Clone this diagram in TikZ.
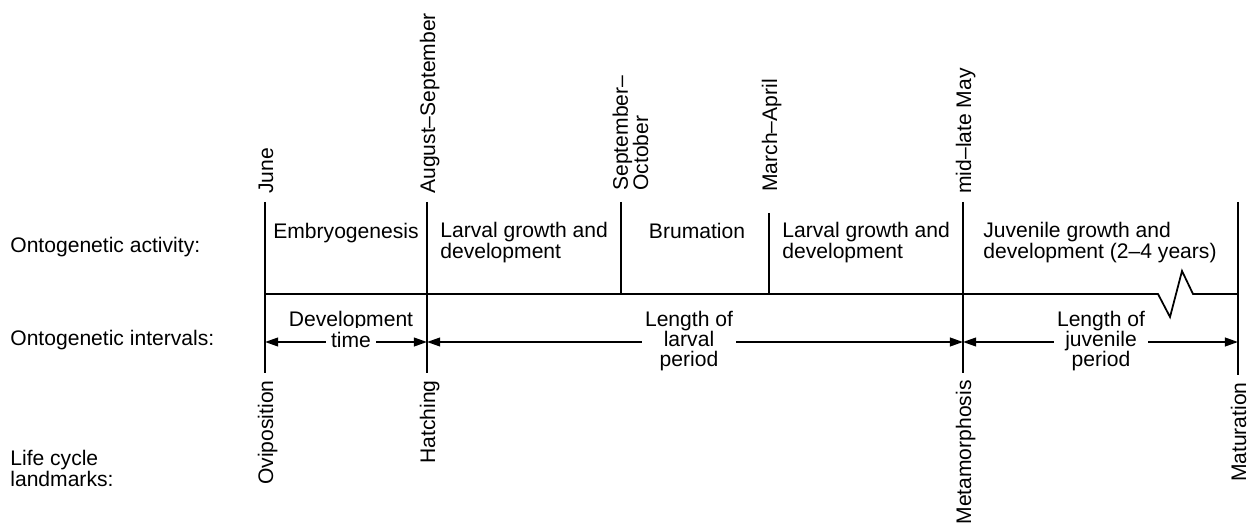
\documentclass[tikz,border=0pt]{standalone}
\usepackage{fontspec}
\setmainfont{Liberation Sans}
\usetikzlibrary{arrows.meta, positioning}

\begin{document}
\begin{tikzpicture}[
  x=0.02cm, y=-0.02cm,
  every node/.style={inner sep=0pt, font=\fontsize{12}{11.5}\selectfont},
  tick/.style={line width=1pt},
  month/.style={rotate=90, anchor=base west, align=left},
  landmark/.style={rotate=90, anchor=base east},
  activity/.style={anchor=base west, align=left},
  span/.style={line width=1pt,
    {Triangle[length=7.5pt, width=5pt]}-{Triangle[length=7.5pt, width=5pt]}},
  gap/.style={fill=white, inner xsep=1.5pt, align=center}
]
\useasboundingbox (0,0) rectangle (1250,530);

% Row headings (base of a two-line node sits on its last line)
\node[anchor=base west] (acthead) at (10,253) {Ontogenetic activity:};
\node[anchor=base west] (ivlhead) at (10,345) {Ontogenetic intervals:};
\node[anchor=base west, align=left] (lmhead) at (10,486) {Life cycle\\landmarks:};

% Points on the time axis
\foreach \name/\x in {ovi/265, hat/427, sep/621, mar/769, meta/963, mat/1238}
  \coordinate (\name) at (\x,294);
\coordinate (brk) at (1158,294);
\coordinate (ivl) at (0,342);
\coordinate (mattop) at (1238,202);

% Calendar dates above the axis
\node[month] (jun)    at (273,194) {June};
\node[month] (augsep) at (435,194) {August–September};
\node[month] (sepoct) at (648,191) {September–\\October};
\node[month] (marapr) at (777,192) {March–April};
\node[month] (maylate) at (971,194) {mid–late May};

% Landmarks below the axis
\node[landmark] (ovip)  at (273,380) {Oviposition};
\node[landmark] (hatch) at (435,380) {Hatching};
\node[landmark] (metam) at (971,380) {Metamorphosis};
\node[landmark] (matur) at (1246,382) {Maturation};

% Ticks
\draw[tick] (ovi |- 0,202) -- (ovi |- 0,373);
\draw[tick] (hat |- 0,202) -- (hat |- 0,373);
\draw[tick] (sep |- 0,202) -- (sep);
\draw[tick] (mar |- 0,213) -- (mar);
\draw[tick] (meta |- 0,202) -- (meta |- 0,373);
\draw[tick] (mattop) -- (mat |- 0,375);

% Time axis with break
\draw[tick] (ovi) -- (brk) -- ++(12,23) -- ++(12,-46) -- ++(11,23) -- (mat);

% Activities
\node[anchor=base] (embryo) at (346,238) {Embryogenesis};
\node[activity] (larv1) at (440,258) {Larval growth and\\development};
\node[anchor=base] (brum) at (697,238) {Brumation};
\node[activity] (larv2) at (782,258) {Larval growth and\\development};
\node[activity] (juv) at (983,258) {Juvenile growth and\\development (2–4 years)};

% Intervals
\draw[span] (ovi |- ivl) -- (hat |- ivl);
\draw[span] (hat |- ivl) -- (meta |- ivl);
\draw[span] (meta |- ivl) -- (mat |- ivl);
\node[anchor=base] (devtop) at (351,326) {Development};
\node[gap, anchor=base, inner xsep=3pt, inner ysep=2pt] (devtime) at (351,347) {time};
\node[gap] (larvlen) at (689,341) {Length of\\larval\\period};
\node[gap] (juvlen) at (1101,341) {Length of\\juvenile\\period};
\end{tikzpicture}
\end{document}
